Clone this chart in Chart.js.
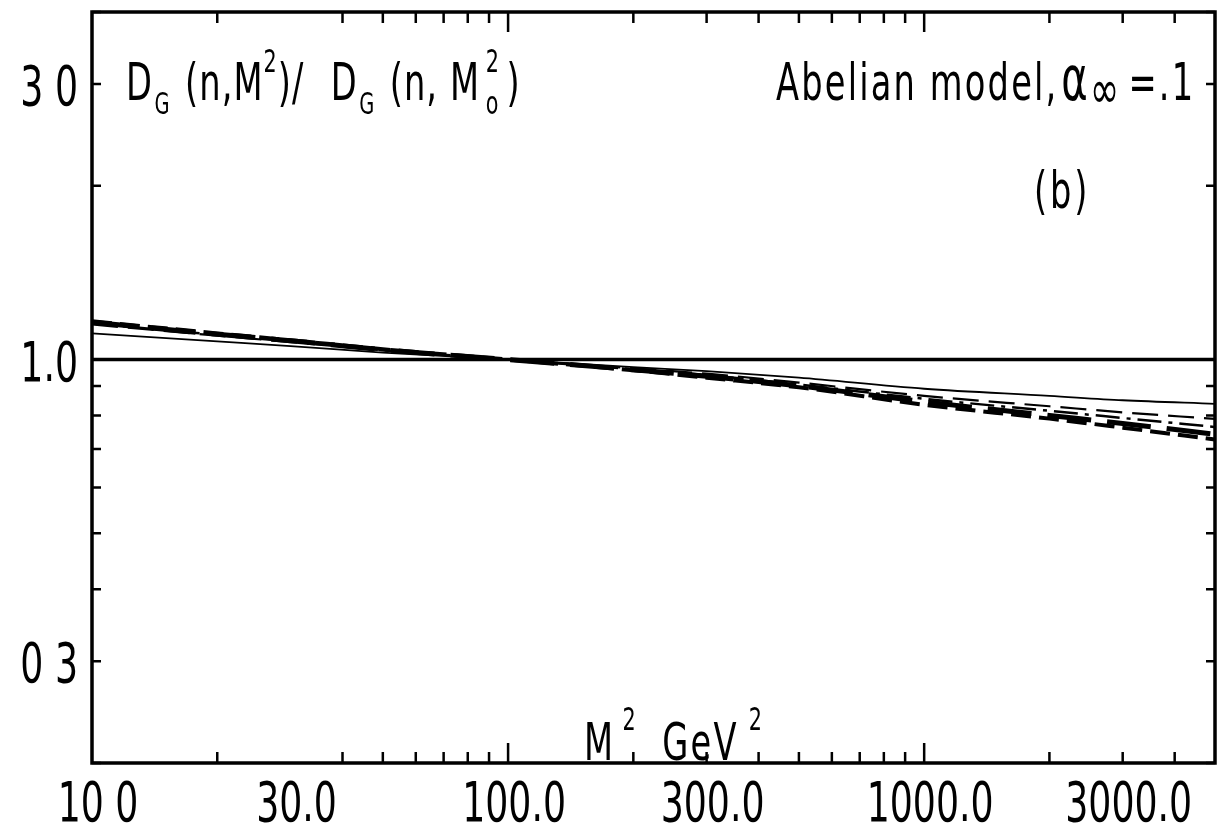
<!DOCTYPE html>
<html>
<head>
<meta charset="utf-8">
<script src="https://cdn.jsdelivr.net/npm/chart.js@4.4.1/dist/chart.umd.min.js"></script>
<style>
  html, body { margin: 0; padding: 0; background: #fff; }
  #wrap { width: 1218px; height: 829px; }
</style>
</head>
<body>
<div id="wrap"><canvas id="chart" width="1218" height="829"></canvas></div>
<script>
// M^2 sample points (GeV^2)
const m2 = [10, 20, 30, 50, 100, 200, 300, 500, 1000, 2000, 3000, 5000];

// ratio D_G(n,M^2)/D_G(n,M0^2)
const thinSolid = [1.11, 1.075, 1.055, 1.028, 1.0, 0.97, 0.955, 0.93, 0.89, 0.865, 0.85, 0.838];
const dashA     = [1.15, 1.10, 1.072, 1.037, 1.0, 0.965, 0.945, 0.912, 0.865, 0.83, 0.81, 0.789];
const dashDot   = [1.155, 1.103, 1.075, 1.038, 1.0, 0.962, 0.94, 0.905, 0.855, 0.815, 0.792, 0.764];
const longDash  = [1.16, 1.106, 1.078, 1.04, 1.0, 0.96, 0.935, 0.9, 0.845, 0.8, 0.775, 0.742];
const heavyDash = [1.165, 1.11, 1.08, 1.042, 1.0, 0.958, 0.93, 0.895, 0.835, 0.79, 0.762, 0.727];

const refX = [10, 5000];
const refY = [1, 1];

const xTicks = [10, 30, 100, 300, 1000, 3000];
const xLabels = ['10 0', '30.0', '100.0', '300.0', '1000.0', '3000.0'];
const yTicks = [0.3, 1, 3];
const yLabels = ['0 3', '1.0', '3 0'];

const xMinor = [20, 40, 50, 60, 70, 80, 90, 200, 300, 400, 500, 600, 700, 800, 900, 2000, 3000, 4000];
const xMajor = [100, 1000];
const yMinor = [0.2, 0.3, 0.4, 0.5, 0.6, 0.7, 0.8, 0.9, 2, 3, 4];
const yMajor = [1];

const FONT = '"DejaVu Sans Condensed", "Liberation Sans Narrow", "DejaVu Sans", sans-serif';
const SQUEEZE = 0.72;

function pts(ys, xs) {
  return (xs || m2).map((x, i) => ({ x: x, y: ys[i] }));
}

// draws a run of text pieces, squeezed sideways like the old plotter lettering
function drawRun(ctx, x, y, parts, spacing) {
  ctx.save();
  ctx.translate(x, y);
  ctx.scale(SQUEEZE, 1);
  ctx.letterSpacing = (spacing || 0) + 'px';
  let cx = 0;
  parts.forEach(p => {
    ctx.font = (p.size || 52) + 'px ' + FONT;
    ctx.fillText(p.t, cx, p.dy || 0);
    cx += ctx.measureText(p.t).width + (p.gap || 0);
  });
  ctx.restore();
}

// one squeezed label, aligned on its anchor
function drawLabel(ctx, text, x, y, align) {
  ctx.save();
  ctx.font = '56px ' + FONT;
  const w = ctx.measureText(text).width * SQUEEZE;
  const left = align === 'right' ? x - w : x - w / 2;
  ctx.translate(left, y);
  ctx.scale(SQUEEZE, 1);
  ctx.fillText(text, 0, 0);
  ctx.restore();
}

const framePlugin = {
  id: 'frame',
  afterDatasetsDraw(chart) {
    const ctx = chart.ctx;
    const a = chart.chartArea;
    const xs = chart.scales.x, ys = chart.scales.y;
    ctx.save();
    ctx.strokeStyle = '#000';
    ctx.lineWidth = 3.5;
    ctx.strokeRect(a.left, a.top, a.right - a.left, a.bottom - a.top);

    // inward ticks on all four sides
    ctx.lineWidth = 2.5;
    const tickX = (v, len) => {
      const p = xs.getPixelForValue(v);
      ctx.beginPath();
      ctx.moveTo(p, a.bottom); ctx.lineTo(p, a.bottom - len);
      ctx.moveTo(p, a.top); ctx.lineTo(p, a.top + len);
      ctx.stroke();
    };
    const tickY = (v, len) => {
      const p = ys.getPixelForValue(v);
      ctx.beginPath();
      ctx.moveTo(a.left, p); ctx.lineTo(a.left + len, p);
      ctx.moveTo(a.right, p); ctx.lineTo(a.right - len, p);
      ctx.stroke();
    };
    xMinor.forEach(v => tickX(v, 11));
    xMajor.forEach(v => tickX(v, 20));
    yMinor.forEach(v => tickY(v, 9));
    yMajor.forEach(v => tickY(v, 14));

    ctx.fillStyle = '#000';
    ctx.textBaseline = 'alphabetic';

    // tick labels placed from the library's scales
    xTicks.forEach((v, i) => drawLabel(ctx, xLabels[i], xs.getPixelForValue(v) + 6, a.bottom + 58, 'center'));
    yTicks.forEach((v, i) => drawLabel(ctx, yLabels[i], a.left - 14, ys.getPixelForValue(v) + 21, 'right'));

    // annotations
    drawRun(ctx, 126, 100, [
      { t: 'D', gap: 2 }, { t: 'G', size: 30, dy: 14, gap: 20 },
      { t: '(n,M' }, { t: '2', size: 32, dy: -28 }, { t: ')/ ', gap: 20 },
      { t: 'D', gap: 2 }, { t: 'G', size: 30, dy: 14, gap: 20 },
      { t: '(n, M', gap: 8 }, { t: '2', size: 32, dy: -28, gap: -20 }, { t: 'o', size: 32, dy: 14, gap: 10 },
      { t: ')' }
    ], 1.5);
    drawRun(ctx, 776, 100, [
      { t: 'Abelian model,', gap: 4 }, { t: 'α', size: 62 }, { t: '∞', size: 54, dy: 8, gap: 10 },
      { t: '=.1' }
    ], 3);
    drawRun(ctx, 1034, 208, [{ t: '(b)' }], 4);
    drawRun(ctx, 584, 760, [
      { t: 'M', gap: 10 }, { t: '2', size: 32, dy: -30, gap: 34 },
      { t: 'GeV', gap: 14 }, { t: '2', size: 32, dy: -30 }
    ], 3);
    ctx.restore();
  }
};

const lineDefaults = { borderColor: '#000', pointRadius: 0, fill: false, cubicInterpolationMode: 'monotone' };

new Chart(document.getElementById('chart'), {
  type: 'line',
  data: {
    datasets: [
      Object.assign({ data: pts(refY, refX), borderWidth: 3.5 }, lineDefaults),
      Object.assign({ data: pts(thinSolid), borderWidth: 1.8 }, lineDefaults),
      Object.assign({ data: pts(dashA), borderWidth: 2.2, borderDash: [26, 10] }, lineDefaults),
      Object.assign({ data: pts(dashDot), borderWidth: 2.5, borderDash: [24, 7, 4, 7] }, lineDefaults),
      Object.assign({ data: pts(longDash), borderWidth: 5, borderDash: [44, 16] }, lineDefaults),
      Object.assign({ data: pts(heavyDash), borderWidth: 4, borderDash: [20, 8] }, lineDefaults)
    ]
  },
  options: {
    responsive: false,
    animation: false,
    layout: { padding: { top: 12, right: 3, left: 0, bottom: 0 } },
    plugins: { legend: { display: false }, tooltip: { enabled: false } },
    scales: {
      x: {
        type: 'logarithmic',
        min: 10, max: 5000,
        grid: { display: false, drawTicks: false },
        border: { display: false },
        afterBuildTicks: s => { s.ticks = xTicks.map(v => ({ value: v })); },
        afterFit: s => { s.height = 66; s.paddingLeft = 0; s.paddingRight = 0; },
        ticks: { display: false }
      },
      y: {
        type: 'logarithmic',
        min: 0.2, max: 4,
        grid: { display: false, drawTicks: false },
        border: { display: false },
        afterBuildTicks: s => { s.ticks = yTicks.map(v => ({ value: v })); },
        afterFit: s => { s.width = 92; s.paddingTop = 0; s.paddingBottom = 0; },
        ticks: { display: false }
      }
    }
  },
  plugins: [framePlugin]
});
</script>
</body>
</html>
